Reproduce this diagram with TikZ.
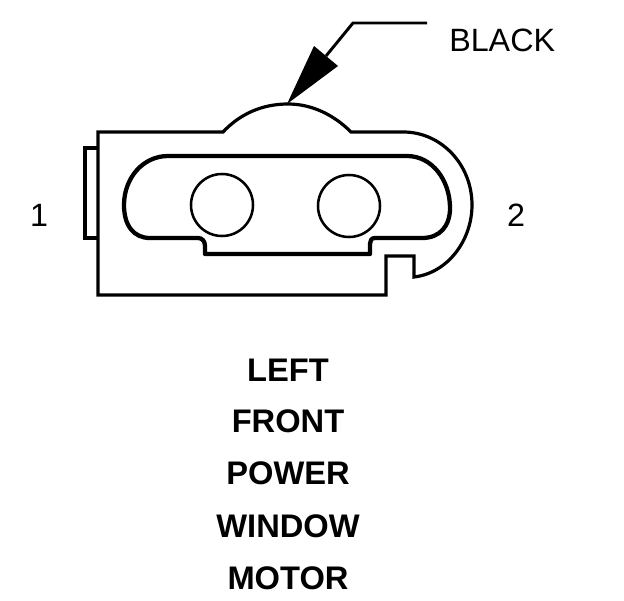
\documentclass[tikz,border=0pt]{standalone}
\usepackage{fontspec}
\setmainfont{Liberation Sans}
\tikzset{
  outline/.style={line width=2.4pt,line join=miter},
  inner/.style={line width=3.2pt,line join=round},
  pin/.style={circle,draw,line width=1.9pt,minimum size=46.5pt,inner sep=0pt},
  lbl/.style={inner sep=0pt,font=\fontsize{24.2}{26}\selectfont},
  title/.style={inner sep=0pt,font=\fontsize{24.5}{26}\selectfont\bfseries},
  leader/.style={line width=2.2pt}
}
\begin{document}
\begin{tikzpicture}[x=0.75pt,y=-0.75pt]
\useasboundingbox (0,0) rectangle (624,600);
% housing
\draw[outline] (98,132) -- (223,132)
  .. controls (240,114) and (262,104) .. (288,104)
  .. controls (312,104) and (334,115) .. (351,132)
  -- (405,132)
  .. controls (442,133) and (472,165) .. (472,205)
  .. controls (472,240) and (448,273) .. (414,277)
  -- (414,256) -- (386,256) -- (386,295) -- (98,295) -- cycle;
% tab
\draw[outline] (98,148) -- (85,148) -- (85,238) -- (98,238);
% cavity
\draw[inner] (168,156) -- (407,156)
  .. controls (432,156) and (450,180) .. (450,208)
  .. controls (450,226) and (440,238) .. (422,238)
  -- (375,238) .. controls (371,238) and (370,241) .. (370,244)
  -- (370,254) -- (205,254) -- (205,246)
  .. controls (205,241) and (202,238) .. (198,238)
  -- (150,238)
  .. controls (134,238) and (124,226) .. (124,205)
  .. controls (124,178) and (143,156) .. (168,156) -- cycle;
% pins
\node[pin] (pinA) at (222,205) {};
\node[pin] (pinB) at (349,206) {};
% labels
\node[lbl] (one) at (39,215) {1};
\node[lbl] (two) at (516,215) {2};
\node[lbl,anchor=west] (black) at (449,40) {BLACK};
\node[title] (t1) at (288,370) {LEFT};
\node[title] (t2) at (288,421) {FRONT};
\node[title] (t3) at (288,473) {POWER};
\node[title] (t4) at (288,526) {WINDOW};
\node[title] (t5) at (288,578) {MOTOR};
% arrow
\coordinate (tip) at (287,104);
\coordinate (elbow) at (353,23);
\coordinate (free) at (427,23);
\coordinate (barbA) at (314,46);
\coordinate (barbB) at (338,66);
\draw[leader] (free) -- (elbow) -- (326,56);
\fill (tip) -- (barbA) -- (barbB) -- cycle;
\end{tikzpicture}
\end{document}
